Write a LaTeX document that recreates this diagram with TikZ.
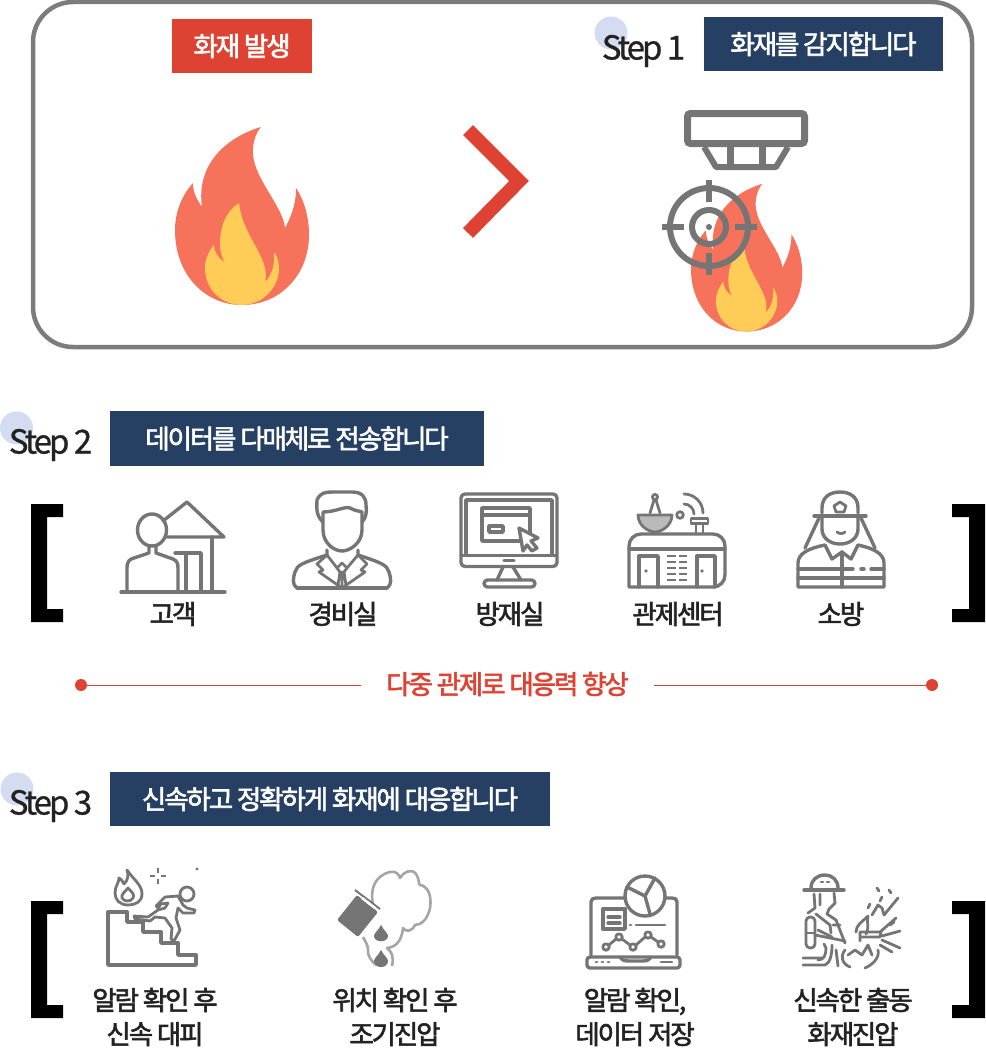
\documentclass[tikz,border=0pt]{standalone}
\usepackage{fontspec}
\newfontfamily\kr[LetterSpace=-8,FakeBold=2.2]{Noto Sans CJK KR}
\newfontfamily\krs[LetterSpace=-9,FakeBold=0.8]{Noto Sans CJK KR}
\definecolor{navy}{HTML}{264063}
\definecolor{redb}{HTML}{DE4232}
\definecolor{ic}{HTML}{757575}
\definecolor{ringc}{HTML}{7C7C7C}
\definecolor{stepc}{HTML}{D3DCF0}
\definecolor{flameo}{HTML}{F6725B}
\definecolor{flamey}{HTML}{FFCD57}
\definecolor{txt}{HTML}{222222}
\newcommand{\fireshape}{%
  \fill[flameo] (260.7,127) .. controls (225,138) and (196,165) .. (202,207) .. controls (196,198) and (193,192) .. (193,183) .. controls (182,195) and (175,212) .. (175,230) .. controls (175,275) and (205,305) .. (242,305) .. controls (280,305) and (309,275) .. (309,235) .. controls (309,215) and (303,198) .. (296,188) .. controls (296,205) and (291,217) .. (285,228) .. controls (283,205) and (250,175) .. (253,148) .. controls (254,138) and (257,132) .. (260.7,127) -- cycle;
  \fill[flamey] (239,203) .. controls (225,212) and (220,228) .. (220,243) .. controls (220,250) and (221,256) .. (224.5,262) .. controls (218,258) and (214,252) .. (214,245) .. controls (208,252) and (205,260) .. (205,268) .. controls (205,290) and (222,305) .. (242,305) .. controls (262,305) and (279,288) .. (279,268) .. controls (279,262) and (277,256) .. (274,252) .. controls (275,265) and (272,275) .. (265,282) .. controls (271,258) and (243,238) .. (239,203) -- cycle;
}
\newcommand{\lbrk}[2]{\fill[black] (31,#1) -- (63,#1) -- (63,#1+13) -- (47,#1+13) -- (47,#2-13) -- (63,#2-13) -- (63,#2) -- (31,#2) -- cycle;}
\newcommand{\rbrk}[2]{\fill[black] (985,#1) -- (952,#1) -- (952,#1+13) -- (969,#1+13) -- (969,#2-13) -- (952,#2-13) -- (952,#2) -- (985,#2) -- cycle;}
\tikzset{
  titlebox/.style={fill=#1,text=white,inner sep=0pt,font=\kr\fontsize{26.5}{26.5}\selectfont},
  steptxt/.style={text=txt,inner sep=0pt,font=\krs\fontsize{33}{33}\selectfont},
  stepdot/.style={circle,fill=stepc,minimum size=33pt,inner sep=0pt},
  lab/.style={text=txt,inner sep=0pt,align=center,font=\kr\fontsize{26.5}{34}\selectfont},
  icl/.style={draw=ic,line width=3.4pt,line join=round,line cap=round},
  icf/.style={draw=ic,line width=2.8pt,line join=round,line cap=round},
  reddot/.style={circle,fill=redb,minimum size=12pt,inner sep=0pt},
}
\begin{document}
\begin{tikzpicture}[x=1pt,y=-1pt]
\useasboundingbox (0,0) rectangle (985,1049);
\draw[ringc,line width=4.5pt,rounded corners=40pt] (33,2) rectangle (972,347);
% top
\node[titlebox=redb,minimum width=140pt,minimum height=54pt] (fireT) at (242,46) {화재 발생};
\node[stepdot] (d1) at (611,33) {};
\node[steptxt] (s1) at (643.5,51) {Step 1};
\node[titlebox=navy,minimum width=239pt,minimum height=54pt] (t1) at (823.5,44) {화재를 감지합니다};
\fireshape
\draw[redb,line width=14pt,line join=miter] (468,130) -- (519,181) -- (468,233);
\begin{scope}[shift={(545.75,78.42)},scale=.83]\fireshape\end{scope}
% detector
\draw[ic,line width=7pt,rounded corners=3pt] (687.5,113.5) rectangle (804.5,143.5);
\draw[ic,line width=6pt,line join=round] (704,147) -- (716,167) -- (776,167) -- (788,147);
\draw[ic,line width=7pt] (730,147) -- (730,167) (762,147) -- (762,167);
\draw[ic,line width=6pt] (709,227) circle (39);
\draw[ic,line width=6pt] (709,227) circle (17);
\fill[ic] (709,227) circle (3);
\draw[ic,line width=6pt] (662,227) -- (684,227) (735,227) -- (757,227) (709,180) -- (709,202) (709,253) -- (709,275);
% step 2
\node[stepdot] (d2) at (16.5,428) {};
\node[steptxt] (s2) at (50.5,445) {Step 2};
\node[titlebox=navy,minimum width=374pt,minimum height=55pt] (t2) at (297,438.5) {데이터를 다매체로 전송합니다};
\lbrk{504}{622}
\rbrk{504}{622}
% customer
\draw[icl] (163,521) -- (187,502) -- (224,537) -- (167,537);
\draw[icl] (212,537) -- (212,592) (121,592) -- (225,592);
\draw[icl] (175,553) -- (201,553) -- (201,592) (186,553) -- (186,592);
\draw[icl] (152,530) ellipse (14.5 and 16);
\draw[icl] (127,592) -- (127,568) .. controls (127,561) and (130,559) .. (134,558) -- (149,553) -- (149,546) (156,546) -- (156,553) -- (173,559) .. controls (177,561) and (178,563) .. (178,568) -- (178,592);
% guard
\draw[icl] (323,522) .. controls (315,515) and (317,505) .. (317,500) .. controls (320,493) and (325,492) .. (332,492) -- (352,492) .. controls (362,492) and (366,497) .. (366,505) .. controls (367,512) and (366,518) .. (362,522);
\draw[icl] (323,530) -- (323,512) .. controls (335,512) and (345,506) .. (350,508) .. controls (355,511) and (360,511) .. (362,512) -- (362,530) .. controls (362,543) and (350,551) .. (342,551) .. controls (334,551) and (323,543) .. (323,530);
\draw[icl] (297,588) .. controls (292,585) and (293,578) .. (295,572) .. controls (297,565) and (302,563) .. (327,555) -- (327,550);
\draw[icl] (387,588) .. controls (392,585) and (391,578) .. (389,572) .. controls (387,565) and (382,563) .. (358,555) -- (358,550);
\draw[icl] (297,588) -- (387,588);
\draw[icf] (327,555) -- (317,564) -- (323,570) -- (319,572) -- (342,588) -- (365,572) -- (361,570) -- (367,564) -- (358,555);
\draw[icf] (327,555) -- (337,568) -- (342,563) -- (347,568) -- (358,555) (337,568) -- (340,572) -- (338,585) (347,568) -- (344,572) -- (346,585) (342,572) -- (342,588);
% monitor
\draw[icl,rounded corners=4pt] (461,494) rectangle (557,566.5);
\draw[icl] (466,555) -- (466,500) -- (552,500) -- (552,555);
\draw[icl] (461,555.5) -- (557,555.5);
\draw[icl] (504,560.5) -- (514,560.5);
\draw[icl] (503,567) -- (497,580) (513,567) -- (521,580);
\draw[icl,rounded corners=3.5pt] (484,580) rectangle (535,587);
\draw[icl] (482,508) rectangle (530,541);
\draw[icl] (482,515) -- (530,515);
\draw[icl] (489,526) rectangle (503,532);
\draw[icl,fill=white] (519,528) -- (538,538) -- (531,541) -- (537,548) -- (532,551) -- (527,545) -- (523,551) -- cycle;
% control center
\draw[icl,rounded corners=12pt] (629,587) -- (629,534) -- (725,534) -- (725,587) [sharp corners] -- cycle;
\draw[icl] (629,549) -- (725,549);
\draw[icl] (639,587) -- (639,556) -- (658,556) -- (658,587) (697,587) -- (697,556) -- (715,556) -- (715,587);
\fill[ic] (646,571) circle (1.8) (702,571) circle (1.8);
\foreach \yy in {556,562,568,574,580} {\draw[ic,line width=2.8pt] (667,\yy) -- (676,\yy) (679,\yy) -- (687,\yy);}
\draw[icf,fill=ic!50] (638,515) -- (672,515) .. controls (672,525) and (662,532) .. (655,532) .. controls (648,532) and (638,525) .. (638,515) -- cycle;
\draw[icf] (650,513) -- (654,500) (660,513) -- (656,500);
\draw[icf] (655,497) circle (2.6);
\draw[icf] (680,515) circle (3.3);
\draw[icf] (684,504) arc[start angle=-90,end angle=0,radius=10];
\draw[icf] (684,494) arc[start angle=-90,end angle=0,radius=19];
\draw[icf] (691,518.5) rectangle (708,523.5);
\draw[icf] (696,524) -- (696,533) (703,524) -- (703,533);
% firefighter 1
\draw[icl] (822,513) -- (822,508) .. controls (822,497) and (830,492) .. (840,492) .. controls (850,492) and (858,497) .. (858,508) -- (858,513);
\draw[icl] (814,516) -- (866,516);
\draw[icf] (840,502) -- (846,506) -- (844,512) -- (836,512) -- (834,506) -- cycle;
\draw[icl] (822,517) -- (822,529) .. controls (822,538) and (830,544) .. (840,544) .. controls (850,544) and (858,538) .. (858,529) -- (858,517);
\draw[icf] (837,532) .. controls (839,534) and (843,534) .. (845,532);
\draw[icl] (819,518) -- (805,548) (861,518) -- (875,548);
\draw[icl] (798,587) -- (798,563) .. controls (798,553) and (810,548) .. (825,545) -- (832,559) -- (842,552) -- (851,559) -- (858,545) .. controls (872,548) and (884,553) .. (884,563) -- (884,587) -- cycle;
\draw[icl] (842,552) -- (842,587) (798,578) -- (884,578) (798,569) -- (853,569) (861,569) -- (864,569) (871,569) -- (884,569);
% labels
\node[lab] (l1) at (173,614) {고객};
\node[lab] (l2) at (343,614) {경비실};
\node[lab] (l3) at (510,614) {방재실};
\node[lab] (l4) at (678,614) {관제센터};
\node[lab] (l5) at (841,614) {소방};
% divider
\node[reddot] (dl) at (81,685) {};
\node[reddot] (dr) at (932,685) {};
\node[text=redb,inner ysep=0pt,inner xsep=25.5pt,font=\kr\fontsize{26.5}{26.5}\selectfont] (mid) at (507.5,684) {다중 관제로 대응력 향상};
\draw[redb,line width=.9pt] (dl) -- (dl -| mid.west);
\draw[redb,line width=.9pt] (dl -| mid.east) -- (dr);
% step 3
\node[stepdot] (d3) at (17,789) {};
\node[steptxt] (s3) at (50.5,806) {Step 3};
\node[titlebox=navy,minimum width=440pt,minimum height=54pt] (t3) at (330,799) {신속하고 정확하게 화재에 대응합니다};
\lbrk{901}{1018}
\rbrk{901}{1018}
% stairs icon
\draw[icl] (108,912) -- (127,912) -- (127,922) -- (143,922) -- (143,932) -- (161,932) -- (161,943) -- (178,943) -- (178,955) -- (196,955) -- (196,965) -- (108,965) -- cycle;
\draw[icf] (127,870) .. controls (134,880) and (142,885) .. (142,894) .. controls (142,902) and (135,905) .. (128,905) .. controls (120,905) and (115,900) .. (115,893) .. controls (115,886) and (119,883) .. (119,878) .. controls (122,880) and (123,882) .. (124,884) .. controls (128,880) and (129,875) .. (127,870) -- cycle;
\draw[icf] (128,888) .. controls (132,892) and (135,895) .. (133,898) .. controls (131,902) and (124,902) .. (122,898) .. controls (121,894) and (125,892) .. (128,888) -- cycle;
\draw[ic,line width=2pt] (158,868) -- (158,873) (158,879) -- (158,884) (150,876) -- (155,876) (161,876) -- (166,876);
\fill[ic] (197,869) circle (1.6);
\draw[icf] (187,894) circle (7);
\draw[icf] (156,906) -- (165,897) -- (178,896) -- (183,905) -- (187,908) -- (195,910) -- (194,913) -- (183,913) -- (178,908) -- (176,918) -- (180,930) -- (174,941) -- (171,939) -- (172,928) -- (165,918) -- (155,917) -- (150,921) -- (135,919) -- (134,916) -- (148,917) -- (158,910) -- (165,908) -- (168,903) -- (161,904) -- (158,908) -- cycle;
% bucket & smoke
\draw[ic!65,line width=2.6pt,line join=round] (373,905) .. controls (370,890) and (374,876) .. (390,872) .. controls (396,870) and (400,876) .. (400,878) .. controls (403,872) and (412,868) .. (416,874) .. controls (420,880) and (418,884) .. (420,885) .. controls (428,886) and (432,896) .. (430,908) .. controls (428,918) and (422,925) .. (415,925) .. controls (412,932) and (405,932) .. (403,928) .. controls (402,938) and (398,947) .. (387,948) .. controls (392,952) and (394,957) .. (392,966);
\draw[ic!65,line width=2.6pt,line join=round] (363,937) .. controls (366,943) and (368,945) .. (368,950) .. controls (367,955) and (372,962) .. (376,965);
\fill[ic,rounded corners=2pt] (357,895) -- (378,912) -- (358,937) -- (337,920) -- cycle;
\draw[ic,line width=2pt] (355,890) -- (380,909);
\draw[white,line width=2.5pt] (362,898) -- (375,908);
\fill[ic] (381,925) .. controls (384,931) and (388,933) .. (388,936) .. controls (388,943) and (374,943) .. (374,936) .. controls (374,933) and (378,931) .. (381,925) -- cycle;
\fill[ic] (381,950) .. controls (384,956) and (388,958) .. (388,961) .. controls (388,969) and (374,969) .. (374,961) .. controls (374,958) and (378,956) .. (381,950) -- cycle;
% laptop icon
\draw[icl] (591,955) -- (591,902) .. controls (591,899) and (593,898) .. (596,898) -- (627,898) (663,898) -- (672,898) .. controls (675,898) and (677,899) .. (677,902) -- (677,955);
\draw[icl,rounded corners=3pt] (587,957) rectangle (680,968);
\draw[icl] (620,957) .. controls (623,961) and (625,961) .. (628,961) -- (643,961) .. controls (646,961) and (648,961) .. (651,957);
\draw[icl,fill=white] (645,896) circle (20);
\draw[icl] (645,896) -- (627,887) (645,896) -- (655,878) (645,896) -- (650,914);
\draw[icl] (603,909) rectangle (625,929);
\draw[icl] (608,917) -- (620,917) (608,923) -- (620,923);
\draw[icf] (630,925) -- (631,925) (636,925) -- (665,925);
\draw[icf] (609,945) -- (616,939) (622,939) -- (630,945) (636,945) -- (645,937) (651,937) -- (658,942);
\foreach \px/\py in {606/947,619/937,633/947,648/935,661/944} {\draw[icf] (\px,\py) circle (3.2);}
\draw[icf] (596,962) -- (597,962) (602,962) -- (603,962) (608,962) -- (609,962) (661,962) -- (672,962);
% firefighter 2
\draw[icl] (811,888) .. controls (811,880) and (817,875) .. (825,875) .. controls (832,875) and (838,880) .. (838,888);
\draw[icl] (804,890) -- (844,890);
\draw[icf] (821,882) -- (823,882) (827,882) -- (829,882);
\draw[icf] (814,894) -- (815,908) -- (808,913) (834,893) -- (835,903) -- (829,909) -- (827,914) -- (836,920) -- (845,943);
\draw[icf] (820,894) -- (820,905) (816,914) -- (830,925) -- (831,933);
\draw[icf,rounded corners=4pt] (806,917) rectangle (815,948);
\draw[icf] (806,933) -- (815,933);
\draw[icf] (815,935) -- (845,941);
\draw[icf] (833,925) -- (840,925) (818,930) -- (832,937);
\draw[icf] (818,960) .. controls (824,960) and (826,955) .. (826,948) -- (824,944) (803,958) -- (822,958) (803,965) -- (825,965) .. controls (830,963) and (832,955) .. (832,945);
\draw[icf] (836,950) -- (838,966) (845,950) .. controls (840,956) and (842,964) .. (850,967) (848,955) -- (855,950) -- (862,955) -- (868,945) -- (872,955);
\draw[icf] (856,932) .. controls (856,925) and (862,922) .. (868,916) .. controls (866,922) and (870,926) .. (866,934) (872,915) -- (878,905) -- (882,908) -- (884,915) -- (898,898) (877,888) -- (879,891) (889,890) -- (891,893) (868,908) -- (870,904) (880,901) -- (882,897);
\draw[icf] (860,937) -- (880,937) -- (881,932) -- (860,932) -- (860,941) (880,932) -- (896,918) (882,936) -- (900,931) (882,940) -- (900,948) (880,945) -- (892,952) (890,925) -- (894,922);
\draw[icf] (878,950) .. controls (880,958) and (872,965) .. (865,968);
% labels
\node[lab] (b1) at (155,1017) {알람 확인 후\\신속 대피};
\node[lab] (b2) at (395,1017) {위치 확인 후\\조기진압};
\node[lab] (b3) at (635,1017) {알람 확인,\\데이터 저장};
\node[lab] (b4) at (853,1017) {신속한 출동\\화재진압};
\end{tikzpicture}
\end{document}
